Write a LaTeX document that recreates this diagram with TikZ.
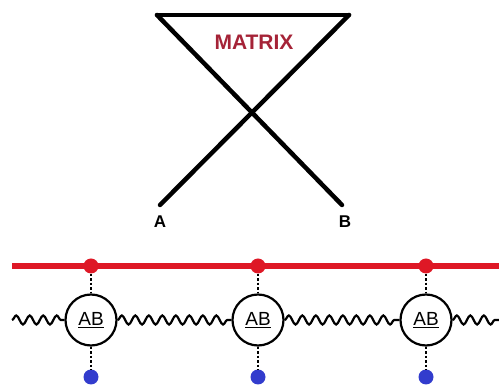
\documentclass[tikz,border=0pt]{standalone}
\usepackage{fontspec}
\setmainfont{Liberation Sans}
\usetikzlibrary{decorations.pathmorphing}
\definecolor{mred}{RGB}{222,24,38}
\definecolor{mtext}{RGB}{165,35,55}
\definecolor{mblue}{RGB}{50,60,205}
\tikzset{
  tri/.style={line width=4.5pt, line cap=round, line join=miter},
  rail/.style={line width=6pt, mred},
  reddot/.style={circle, fill=mred, minimum size=15pt, inner sep=0pt},
  bluedot/.style={circle, fill=mblue, minimum size=15pt, inner sep=0pt},
  abcirc/.style={circle, draw, line width=2.2pt, minimum size=51pt, inner sep=0pt, font=\fontsize{19}{19}\selectfont},
  dashlink/.style={line width=2.2pt, dash pattern=on 2.5pt off 2pt},
  wave/.style={line width=2.2pt, decorate, decoration={snake, amplitude=4.5pt, segment length=13.5pt}},
  lbl/.style={font=\fontsize{17}{17}\selectfont\bfseries}
}
\begin{document}
\begin{tikzpicture}[x=1pt,y=-1pt]
\useasboundingbox (0,0) rectangle (499,387);
% triangle / cross
\coordinate (tl) at (157,15);
\coordinate (tr) at (349,15);
\coordinate (ea) at (160,205);
\coordinate (eb) at (342,205);
\draw[tri] (tl) -- (tr);
\draw[tri] (tl) -- (eb);
\draw[tri] (tr) -- (ea);
\node[font=\fontsize{21}{21}\selectfont\bfseries, text=mtext] (matrix) at (254,42) {MATRIX};
\node[lbl] (A) at (160,222) {A};
\node[lbl] (B) at (345,222) {B};
% rail
\coordinate (rl) at (12,266);
\coordinate (rr) at (499,266);
\draw[rail] (rl) -- (rr);
\coordinate (wl) at (12,320);
\coordinate (wr) at (499,320);
\foreach \i/\x in {1/91,2/258,3/426}{
  \node[reddot] (r\i) at (\x,266) {};
  \node[abcirc] (c\i) at (\x,320) {\underline{AB}};
  \node[bluedot] (b\i) at (\x,377) {};
  \draw[dashlink] (r\i) -- (c\i);
  \draw[dashlink] (c\i) -- (b\i);
}
\draw[wave] (wl) -- (c1.west);
\draw[wave] (c1.east) -- (c2.west);
\draw[wave] (c2.east) -- (c3.west);
\draw[wave] (c3.east) -- (wr);
\end{tikzpicture}
\end{document}
